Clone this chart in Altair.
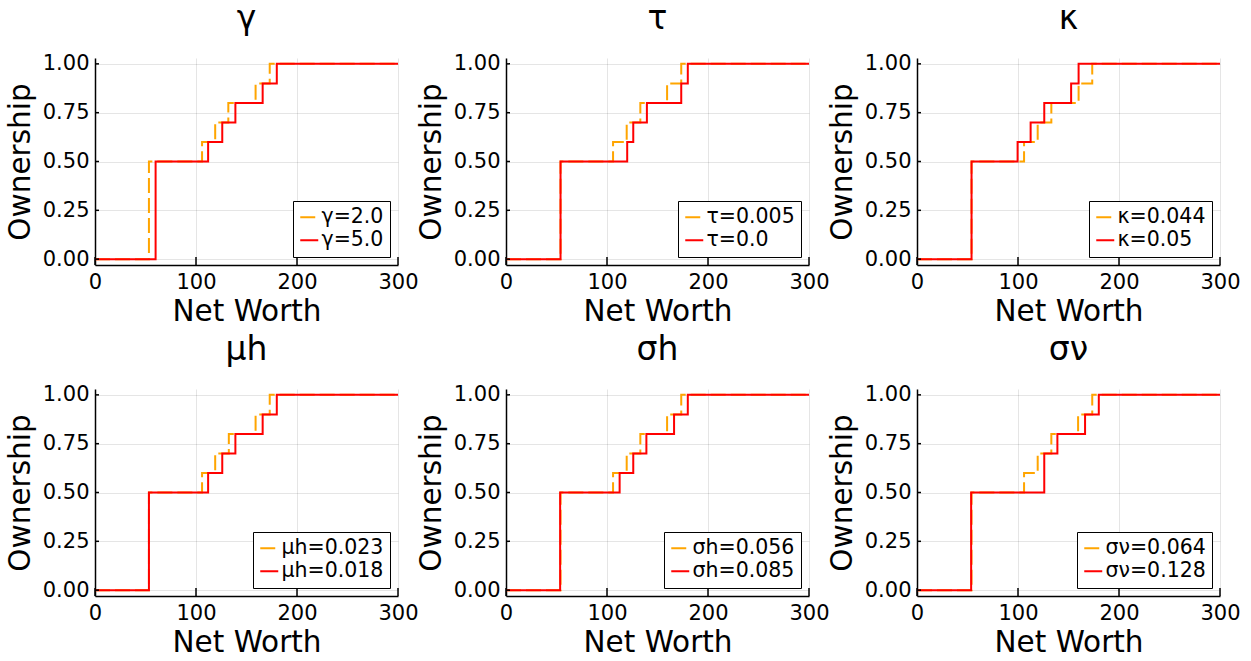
import altair as alt
import pandas as pd

# ---------------- data ----------------
titles = ["γ", "τ", "κ", "μh", "σh", "σν"]
labels_orange = ["γ=2.0", "τ=0.005", "κ=0.044", "μh=0.023", "σh=0.056", "σν=0.064"]
labels_red = ["γ=5.0", "τ=0.0", "κ=0.05", "μh=0.018", "σh=0.085", "σν=0.128"]

# net worth at which ownership steps up (step-after), per panel
orange_nw = [
    [0, 53.4, 106, 119, 132, 159, 173, 300],
    [0, 54, 106, 119.5, 133, 159.5, 173.5, 300],
    [0, 54, 106, 119.5, 133, 160, 173.5, 300],
    [0, 53.4, 106, 119, 132.5, 159, 173, 300],
    [0, 54, 106, 119.5, 133, 159.5, 173.5, 300],
    [0, 54, 106, 119.5, 133, 159.5, 173.5, 300],
]
orange_own = [
    [0.0, 0.5, 0.6, 0.7, 0.8, 0.9, 1.0, 1.0],
    [0.0, 0.5, 0.6, 0.7, 0.8, 0.9, 1.0, 1.0],
    [0.0, 0.5, 0.6, 0.7, 0.8, 0.9, 1.0, 1.0],
    [0.0, 0.5, 0.6, 0.7, 0.8, 0.9, 1.0, 1.0],
    [0.0, 0.5, 0.6, 0.7, 0.8, 0.9, 1.0, 1.0],
    [0.0, 0.5, 0.6, 0.7, 0.8, 0.9, 1.0, 1.0],
]
red_nw = [
    [0, 60, 112, 126, 139, 166, 180, 300],
    [0, 54, 120, 126, 139.5, 173.5, 180, 300],
    [0, 54, 99.6, 112.5, 126, 152.6, 160, 300],
    [0, 53.4, 112, 126, 139, 166, 180, 300],
    [0, 53.6, 112.5, 126, 139, 166.4, 180, 300],
    [0, 53.6, 126, 139, 166.4, 180, 300],
]
red_own = [
    [0.0, 0.5, 0.6, 0.7, 0.8, 0.9, 1.0, 1.0],
    [0.0, 0.5, 0.6, 0.7, 0.8, 0.9, 1.0, 1.0],
    [0.0, 0.5, 0.6, 0.7, 0.8, 0.9, 1.0, 1.0],
    [0.0, 0.5, 0.6, 0.7, 0.8, 0.9, 1.0, 1.0],
    [0.0, 0.5, 0.6, 0.7, 0.8, 0.9, 1.0, 1.0],
    [0.0, 0.5, 0.7, 0.8, 0.9, 1.0, 1.0],
]

x_ticks = [0, 100, 200, 300]
y_ticks = [0.0, 0.25, 0.5, 0.75, 1.0]

ORANGE = "#FFA500"
RED = "#FF0000"
FONT = "DejaVu Sans"
W, H = 303, 207


def panel(i):
    lo, hi = labels_orange[i], labels_red[i]
    rows = []
    for nw, own in zip(orange_nw[i], orange_own[i]):
        rows.append({"nw": nw, "own": own, "series": lo})
    for nw, own in zip(red_nw[i], red_own[i]):
        rows.append({"nw": nw, "own": own, "series": hi})
    df = pd.DataFrame(rows)

    xenc = alt.X(
        "nw:Q",
        scale=alt.Scale(domain=[0, 300], nice=False, zero=False),
        axis=alt.Axis(values=x_ticks, title="Net Worth", format="d"),
    )
    yenc = alt.Y(
        "own:Q",
        scale=alt.Scale(domain=[-0.03, 1.03], nice=False, zero=False),
        axis=alt.Axis(values=y_ticks, title="Ownership", format=".2f"),
    )
    leg = alt.Legend(orient="bottom-right", offset=8)
    color = alt.Color(
        "series:N",
        scale=alt.Scale(domain=[lo, hi], range=[ORANGE, RED]),
        title=None,
        legend=leg,
    )
    dash = alt.StrokeDash(
        "series:N",
        scale=alt.Scale(domain=[lo, hi], range=[[15, 5], [1, 0]]),
        title=None,
        legend=leg,
    )
    base = alt.Chart(df).encode(x=xenc, y=yenc, color=color, strokeDash=dash)
    line_o = base.transform_filter(alt.datum.series == lo).mark_line(
        interpolate="step-after", strokeWidth=2
    )
    line_r = base.transform_filter(alt.datum.series == hi).mark_line(
        interpolate="step-after", strokeWidth=2
    )
    xt = alt.Chart(pd.DataFrame({"nw": x_ticks})).mark_rule(
        color="black", strokeWidth=1.5
    ).encode(x=xenc, y=alt.value(H), y2=alt.value(H - 8))
    yt = alt.Chart(pd.DataFrame({"own": y_ticks})).mark_rule(
        color="black", strokeWidth=1.5
    ).encode(y=yenc, x=alt.value(0), x2=alt.value(4))

    return alt.layer(line_o, line_r, xt, yt).properties(
        width=W,
        height=H,
        title=alt.TitleParams(
            titles[i],
            fontSize=33,
            font=FONT,
            fontWeight="normal",
            color="black",
            anchor="middle",
            frame="group",
            baseline="alphabetic",
            offset=-9,
        ),
    )


chart = (
    alt.concat(
        *[panel(i) for i in range(6)],
        columns=3,
        spacing={"row": 124, "column": 108},
        bounds="flush",
    )
    .resolve_scale(color="independent", strokeDash="independent")
    .resolve_legend(color="independent", strokeDash="independent")
    .properties(padding={"left": 4, "top": 2, "right": 0, "bottom": 0}, background="white")
    .configure_view(stroke="transparent")
    .configure_axis(
        domainColor="black",
        domainWidth=1.5,
        gridColor="black",
        gridOpacity=0.1,
        gridWidth=1,
        ticks=False,
        labelFont=FONT,
        labelFontSize=21,
        labelColor="black",
        labelFlush=False,
        labelOverlap=False,
        titleFont=FONT,
        titleFontSize=29.5,
        titleFontWeight="normal",
        titleColor="black",
    )
    .configure_axisX(labelPadding=6, titlePadding=5)
    .configure_axisY(labelPadding=6, titlePadding=7)
    .configure_legend(
        strokeColor="black",
        fillColor="white",
        padding=6,
        labelFont=FONT,
        labelFontSize=20.5,
        labelColor="black",
        labelOffset=2,
        symbolType="stroke",
        symbolSize=324,
        symbolStrokeWidth=2,
        rowPadding=2,
        cornerRadius=0,
    )
)

chart.save("out.html", embed_options={"renderer": "svg", "actions": False})
